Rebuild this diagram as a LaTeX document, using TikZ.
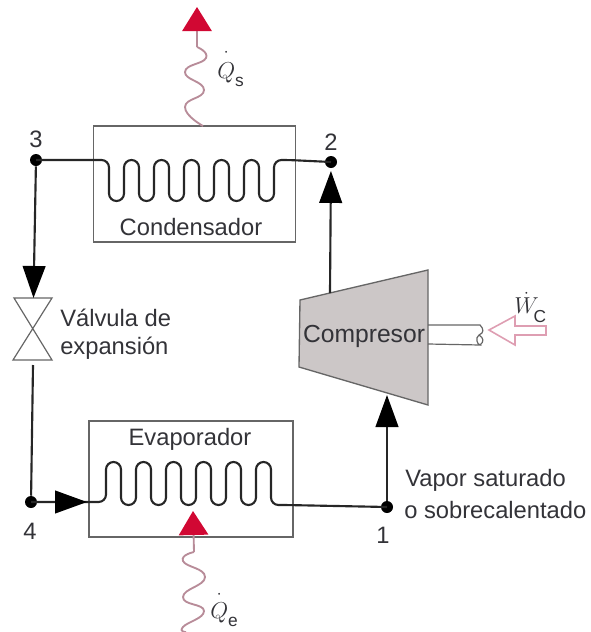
\documentclass[tikz,border=0pt]{standalone}
\usepackage{amsmath}
\usepackage{fontspec}
\setmainfont{Liberation Sans}
\usetikzlibrary{arrows.meta}
\definecolor{inkgrey}{rgb}{0.2,0.2,0.22}
\definecolor{boxgrey}{rgb}{0.4,0.4,0.4}
\definecolor{heatred}{rgb}{0.82,0.03,0.2}
\definecolor{heatline}{rgb}{0.72,0.55,0.6}
\definecolor{workpink}{rgb}{0.87,0.62,0.7}
\definecolor{compgrey}{rgb}{0.8,0.78,0.78}
\newcommand{\subtxt}[2]{\raisebox{#1}{\fontsize{13}{14}\selectfont #2}}
\tikzset{
  unitbox/.style={draw=boxgrey,line width=0.9pt,inner sep=0pt},
  statedot/.style={circle,fill=black,inner sep=0pt,minimum size=9pt},
  pipe/.style={draw=black!85,line width=1.6pt},
  flow/.style={pipe,-{Triangle[length=24pt,width=17pt,color=black]}},
  heat/.style={draw=heatline,line width=1.4pt},
  heatflow/.style={heat,-{Triangle[length=18pt,width=22pt,color=heatred]}},
  lbl/.style={text=inkgrey,inner sep=0pt,font=\fontsize{17.8}{20}\selectfont},
  symlbl/.style={text=inkgrey,inner sep=0pt,font=\fontsize{19}{22}\selectfont},
}
\begin{document}
\begin{tikzpicture}[x=0.75pt,y=0.75pt,yscale=-1,xscale=1]
        \useasboundingbox (0,0) rectangle (590,632);

        \draw (194.5,184) node (condensador) [unitbox,minimum width=152pt,minimum height=87pt] {};
        \draw (191,479) node (evaporador) [unitbox,minimum width=153pt,minimum height=87pt] {};

        \draw (36,160) node (n3) [statedot] {};
        \draw (331,162) node (n2) [statedot] {};
        \draw (31,502) node (n4) [statedot] {};
        \draw (387,507) node (n1) [statedot] {};

        \draw [pipe,rounded corners=5.6pt] (n3.center) -- (109,160) \foreach \k in {0,...,5} { -- ({109+30*\k},201) -- ({124+30*\k},201) -- ({124+30*\k},160) -- ({139+30*\k},160) } -- (n2.center);
        \draw [pipe,rounded corners=5.6pt] (n4.center) -- (106,502) \foreach \k in {0,...,5} { -- ({106+30*\k},462) -- ({121+30*\k},462) -- ({121+30*\k},505) -- ({136+30*\k},505) } -- (n1.center);

        \draw [fill=compgrey,draw=boxgrey,line width=1pt] (300,300) -- (428,270) -- (428,405) -- (299,367) -- cycle ;
        \coordinate (compout) at (330,293);
        \coordinate (compin) at (387,395);
        \draw [flow,shorten >=2pt] (compout) -- (n2);
        \draw [flow] (n1) -- (compin);

        \coordinate (valvetop) at (33.5,298);
        \coordinate (valvebot) at (33,365);
        \draw [draw=boxgrey,line width=0.9pt] (14,298) -- (52,298) -- (13,360) -- (52,360) -- cycle ;
        \draw [flow] (n3) -- (valvetop);
        \draw [pipe] (valvebot) -- (n4);
        \coordinate (evapin) at (87,502);
        \draw [flow] (n4) -- (evapin);

        \draw [draw=boxgrey,line width=0.9pt] (428,325) -- (480,325) .. controls (484,329) and (484,333) .. (479,335) .. controls (475,338) and (477,344) .. (480,345) -- (428,344) ;
        \draw [draw=boxgrey,line width=0.9pt] (480,345) .. controls (484,342) and (484,338) .. (479,335) ;
        \draw [draw=workpink,line width=1.2pt] (489,330) -- (515,316) -- (515,326) -- (546,326) -- (546,335) -- (515,335) -- (515,345) -- cycle ;

        \coordinate (qsbase) at (203,126);
        \coordinate (qsneck) at (197,47);
        \coordinate (qstip) at (197,7);
        \draw [heat] plot [smooth,tension=0.9] coordinates {(qsbase) (185,107) (204,90) (185,72) (206,58) (qsneck)};
        \draw [heatflow] (qsneck) -- (qstip);

        \coordinate (qeend) at (186,632);
        \coordinate (qeneck) at (194,552);
        \coordinate (qetip) at (193,511);
        \draw [heat] plot [smooth,tension=0.9] coordinates {(qeneck) (183,561) (205,577) (183,597) (204,611) (183,627) (qeend)};
        \draw [heatflow] (qeneck) -- (qetip);

        \draw (36,139) node (lbl3) [lbl] {3};
        \draw (331,142) node (lbl2) [lbl] {2};
        \draw (30,531) node (lbl4) [lbl] {4};
        \draw (383,535) node (lbl1) [lbl] {1};
        \draw (191,227) node (lblcond) [lbl] {Condensador};
        \draw (190,439) node (lblevap) [lbl] {Evaporador};
        \draw (364,336) node (lblcomp) [lbl,font=\fontsize{18.5}{20}\selectfont] {Compresor};
        \draw (60,318) node (lblvalve) [lbl,anchor=west] {Válvula de};
        \draw (60,348) node (lblexp) [lbl,anchor=west] {expansión};
        \draw (405,480) node (lblvapor) [lbl,anchor=west] {Vapor saturado};
        \draw (404,510) node (lblsobre) [lbl,anchor=west] {o sobrecalentado};
        \draw (217,87) node (lblqs) [symlbl,anchor=south west] {$\dot{Q\rule{0pt}{16.5pt}}_{\subtxt{-2pt}{s}}$};
        \draw (210,627) node (lblqe) [symlbl,anchor=south west] {$\dot{Q\rule{0pt}{15pt}}_{\subtxt{-2pt}{e}}$};
        \draw (514,323) node (lblwc) [symlbl,anchor=south west,font=\fontsize{17}{20}\selectfont] {$\dot{W\rule{0pt}{12pt}}\mkern-4mu_{\subtxt{-4pt}{C}}$};
    \end{tikzpicture}
\end{document}
